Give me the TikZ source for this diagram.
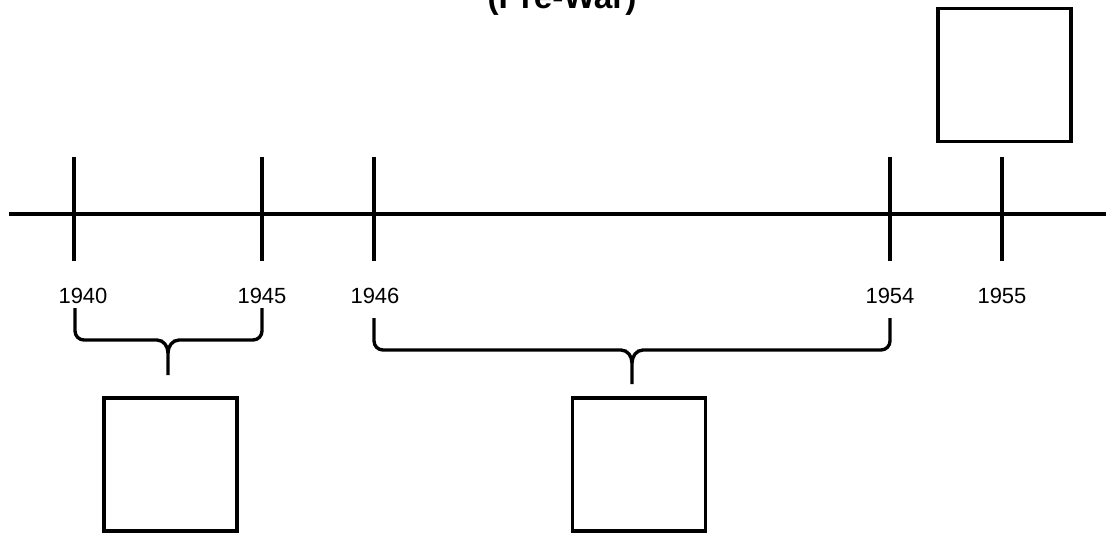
\documentclass[tikz,border=0pt]{standalone}
\usepackage{fontspec}
\setmainfont{Liberation Sans}
\setsansfont{Liberation Sans}
\usetikzlibrary{arrows.meta}

\begin{document}
\begin{tikzpicture}[
  x=0.02cm, y=-0.02cm,
  >=Stealth,
  every node/.style={font=\sffamily},
  line width=1.9pt,
  yearlabel/.style={anchor=base, font=\sffamily\fontsize{12.5}{15}\selectfont},
  eventbox/.style={draw, line width=1.9pt, inner sep=0pt,
    minimum width=2.66cm, minimum height=2.66cm}
]
\useasboundingbox (0,0) rectangle (1110,537);
\clip (0,0) rectangle (1110,537);

% ============================================================
% Title (cut off at the top edge)
% ============================================================
\node[anchor=base, font=\sffamily\bfseries\fontsize{19}{23}\selectfont]
  (title) at (562,9) {(Pre-War)};

% ============================================================
% Axis and ticks
% ============================================================
\draw (9,214) -- (1106,214);
\foreach \x/\yr in {74/1940,262/1945,374/1946,890/1954,1002/1955} {
  \coordinate (t\yr) at (\x,214);
  \draw (\x,157) -- (\x,261);
}

% Year labels
\node[yearlabel] (l1940) at (83,303) {1940};
\node[yearlabel] (l1945) at (262,303) {1945};
\node[yearlabel] (l1946) at (375,303) {1946};
\node[yearlabel] (l1954) at (890,303) {1954};
\node[yearlabel] (l1955) at (1002,303) {1955};

% ============================================================
% Brace 1940 -- 1945
% ============================================================
\draw (75,308) -- (75,331) to[out=-90,in=180] (84,340) -- (157,340)
  to[out=0,in=90] (168,353) -- (168,375);
\draw (262,308) -- (262,331) to[out=-90,in=0] (253,340) -- (179,340)
  to[out=180,in=90] (168,353);

% ============================================================
% Brace 1946 -- 1954
% ============================================================
\draw (374,318) -- (374,341) to[out=-90,in=180] (383,350) -- (621,350)
  to[out=0,in=90] (632,363) -- (632,384);
\draw (890,318) -- (890,341) to[out=-90,in=0] (881,350) -- (643,350)
  to[out=180,in=90] (632,363);

% ============================================================
% Boxes
% ============================================================
\node[eventbox] (war) at (170.5,464.5) {};
\node[eventbox] (postwar) at (639,464.5) {};
\node[eventbox] (later) at (1004.5,75) {};

\end{tikzpicture}
\end{document}
